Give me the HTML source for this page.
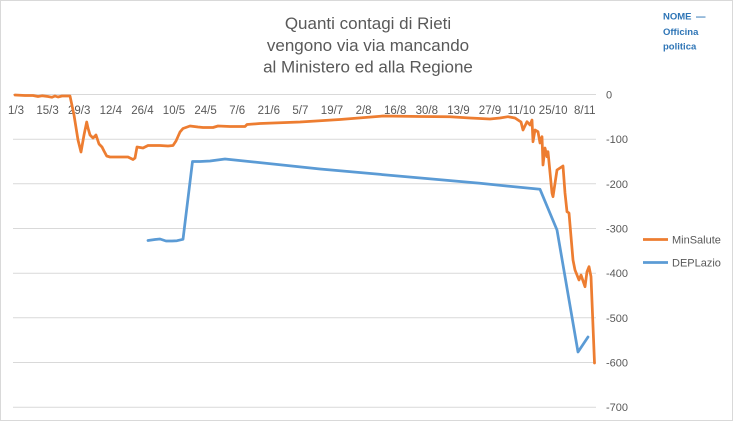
<!DOCTYPE html>
<html>
<head>
<meta charset="utf-8">
<style>
  html,body{margin:0;padding:0;background:#fff;}
  body{width:735px;height:422px;overflow:hidden;}
  svg{display:block;}
  text{font-family:"Liberation Sans",Arial,sans-serif;fill:#595959;}
  .logo{fill:#2e75b6;font-weight:bold;font-size:9.5px;}
</style>
</head>
<body>
<svg width="735" height="422" viewBox="0 0 735 422" xmlns="http://www.w3.org/2000/svg">
  <rect x="0" y="0" width="735" height="422" fill="#fff"/>
  <rect x="0.5" y="0.5" width="732" height="420" fill="none" stroke="#d9d9d9" stroke-width="1"/>

  <!-- Title -->
  <text x="368" y="29" font-size="17" text-anchor="middle">Quanti contagi di Rieti</text>
  <text x="368" y="51" font-size="17" text-anchor="middle">vengono via via mancando</text>
  <text x="368" y="72.5" font-size="17" text-anchor="middle">al Ministero ed alla Regione</text>

  <!-- Logo -->
  <text class="logo" x="663" y="19.5" font-weight="bold" font-size="9.5">NOME</text>
  <text class="logo" x="696" y="19.5" font-weight="bold" font-size="9.5">—</text>
  <text class="logo" x="663" y="35" font-weight="bold" font-size="9.5">Officina</text>
  <text class="logo" x="663" y="49.5" font-weight="bold" font-size="9.5">politica</text>

  <!-- Gridlines -->
  <g stroke="#d9d9d9" stroke-width="1">
    <line x1="13" y1="94.5" x2="596" y2="94.5"/>
    <line x1="13" y1="139.2" x2="596" y2="139.2"/>
    <line x1="13" y1="183.8" x2="596" y2="183.8"/>
    <line x1="13" y1="228.5" x2="596" y2="228.5"/>
    <line x1="13" y1="273.2" x2="596" y2="273.2"/>
    <line x1="13" y1="317.8" x2="596" y2="317.8"/>
    <line x1="13" y1="362.5" x2="596" y2="362.5"/>
    <line x1="13" y1="407.2" x2="596" y2="407.2"/>
  </g>

  <!-- Y labels -->
  <g font-size="11">
    <text x="606" y="98.5">0</text>
    <text x="606" y="143.2">-100</text>
    <text x="606" y="187.8">-200</text>
    <text x="606" y="232.5">-300</text>
    <text x="606" y="277.2">-400</text>
    <text x="606" y="321.8">-500</text>
    <text x="606" y="366.5">-600</text>
    <text x="606" y="411.2">-700</text>
  </g>

  <!-- X labels -->
  <g font-size="11.5" text-anchor="middle">
    <text x="16" y="114">1/3</text>
    <text x="47.6" y="114">15/3</text>
    <text x="79.2" y="114">29/3</text>
    <text x="110.8" y="114">12/4</text>
    <text x="142.4" y="114">26/4</text>
    <text x="174" y="114">10/5</text>
    <text x="205.6" y="114">24/5</text>
    <text x="237.2" y="114">7/6</text>
    <text x="268.8" y="114">21/6</text>
    <text x="300.4" y="114">5/7</text>
    <text x="332" y="114">19/7</text>
    <text x="363.6" y="114">2/8</text>
    <text x="395.2" y="114">16/8</text>
    <text x="426.8" y="114">30/8</text>
    <text x="458.4" y="114">13/9</text>
    <text x="490" y="114">27/9</text>
    <text x="521.6" y="114">11/10</text>
    <text x="553.2" y="114">25/10</text>
    <text x="584.8" y="114">8/11</text>
  </g>

  <!-- DEPLazio (blue) -->
  <polyline fill="none" stroke="#5b9bd5" stroke-width="2.75" stroke-linejoin="round" stroke-linecap="round"
    points="148,240.5 155,239.5 160,239 166,241 172,241 177,240.7 183,239.3 192.5,161.5 200,161.5 210,161 225,159 320,169 480,183.3 540,189.3 557,230 578,352 588,337"/>

  <!-- MinSalute (orange) -->
  <polyline fill="none" stroke="#ed7d31" stroke-width="2.75" stroke-linejoin="round" stroke-linecap="round"
    points="15,95 25,95.5 33,95.5 38,96.5 42,95.8 48,96.5 52,97.3 55,96 58,97 62,96 68,96 70,96 74,115 78,140 81,152 84,135 86.7,122 88,128 90,135 93,138 96,135 99,144 102,147 104,151 106.7,156 110,157 120,157 128,157 133,159.5 135,158 137,147 140,147.5 143,148 148,145.5 160,145.5 168,146 173,145.5 176,141 180,132 183,128.5 190,126 198,127 203,127.5 213,127.5 218,126 230,126.5 245,126.5 247,124.5 260,123.5 300,122 340,119.5 383,116 420,116.5 450,116.7 470,118 490,119 500,118 508,116.7 515,118 518,120 521,122 523,130 527,121.7 530,125 532,120 533,141.7 535,130 538,131.7 540,143 542,136.7 543,165 545,148 547,156.7 548,151.7 552,193 553,196.7 557,170 560,168 563,166 565,193 567,211.7 569,213 573,260 575,270 577,275 579,280 581,275 585,286.7 587,271.7 589,266.7 591,276.7 594.5,363"/>

  <!-- Legend -->
  <line x1="643" y1="239.5" x2="668" y2="239.5" stroke="#ed7d31" stroke-width="2.75"/>
  <text x="672" y="243.5" font-size="11">MinSalute</text>
  <line x1="643" y1="262.5" x2="668" y2="262.5" stroke="#5b9bd5" stroke-width="2.75"/>
  <text x="672" y="266.5" font-size="11">DEPLazio</text>
</svg>
</body>
</html>
